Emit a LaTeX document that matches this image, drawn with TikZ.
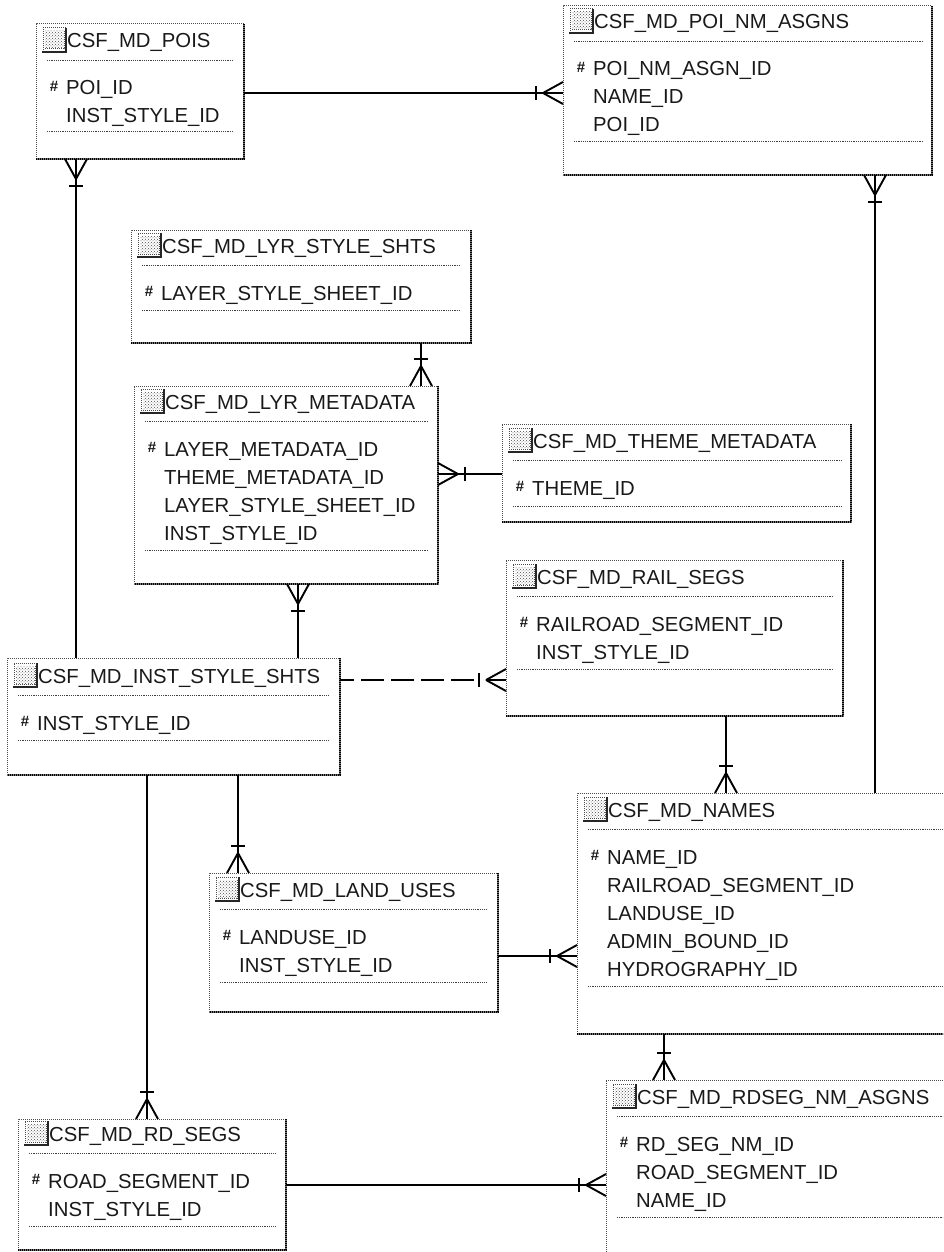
\documentclass[tikz,border=0pt]{standalone}
\usepackage{fontspec}
\setmainfont{Liberation Sans}
\usetikzlibrary{calc,patterns}
\tikzset{
  x=1pt,y=-1pt,
  rel/.style={line width=1.9pt,black,line cap=butt},
  tablebox/.style={inner sep=0pt,outer sep=0pt,fill=white},
  thinedge/.style={line width=1pt,black!70,dash pattern=on 1pt off 1pt},
  heavyunder/.style={line width=2.4pt,black!55},
  heavyedge/.style={line width=2.4pt,black,dash pattern=on 1pt off 1pt},
  rule/.style={line width=1pt,black!75,dash pattern=on 1.2pt off 1pt},
  label/.style={anchor=base west,inner sep=0pt,font=\fontsize{20.3}{20.3}\selectfont,text=black!90},
  keymark/.style={anchor=center,inner sep=0pt,font=\fontsize{15}{15}\selectfont\bfseries,text=black!90},
}
% #1 name, #2 l, #3 t, #4 r, #5 b, #6 title centre y, #7 title, #8 attributes, #9 lower rule y
\newcommand\erbox[9]{%
  \pgfmathsetmacro\bw{#4-#2}\pgfmathsetmacro\bh{#5-#3}%
  \node[tablebox,minimum width=\bw pt,minimum height=\bh pt] (#1) at ({(#2+#4)/2},{(#3+#5)/2}) {};
  \draw[thinedge] (#1.south west) -- (#1.north west) -- (#1.north east);
  \draw[heavyunder] (#1.north east) -- (#1.south east) -- (#1.south west);
  \draw[heavyedge] (#1.north east) -- (#1.south east) -- (#1.south west);
  \fill[pattern=crosshatch dots,pattern color=black!70] ({#2+9},{#6-10}) rectangle ({#2+28},{#6+7});
  \draw[thinedge] ({#2+7},{#6+11}) -- ({#2+7},{#6-13}) -- ({#2+30},{#6-13});
  \draw[thinedge] ({#2+9},{#6+8}) -- ({#2+28},{#6+8}) -- ({#2+28},{#6-10});
  \draw[line width=1.6pt,black!85] ({#2+6},{#6+11}) -- ({#2+30},{#6+11}) -- ({#2+30},{#6-13});
  \node[label] (#1-title) at ({#2+31},{#6+7}) {#7};
  \draw[rule] ({#2+11},{#6+19.5}) -- ({min(#4-10,943)},{#6+19.5});
  \foreach \a [count=\i] in {#8} {
    \node[label] (#1-a\i) at ({#2+30},{#6+47+7+28*(\i-1)}) {\a};
  }
  \node[keymark] (#1-key) at ({#2+18},{#6+47-2}) {\#};
  \draw[rule] ({#2+11},#9) -- ({min(#4-10,943)},#9);
}
% crow's foot on node border point #1, pointing away along (#2,#3)
\newcommand\crow[3]{%
  \coordinate (cc) at #1;
  \draw[rel] ($(cc)+(#2*20,#3*20)$) -- ($(cc)+(#3*11,#2*11)$);
  \draw[rel] ($(cc)+(#2*20,#3*20)$) -- ($(cc)-(#3*11,#2*11)$);
  \draw[rel] ($(cc)+(#2*27+#3*7,#3*27+#2*7)$) -- ($(cc)+(#2*27-#3*7,#3*27-#2*7)$);
}
\begin{document}
\begin{tikzpicture}
\clip (0,0) rectangle (943,1252);
\fill[white] (0,0) rectangle (943,1252);
\erbox{pois}{36}{24}{244}{159}{41}{CSF\_MD\_POIS}{POI\_ID,INST\_STYLE\_ID}{132}
\erbox{nm}{563}{6}{932}{175}{22}{CSF\_MD\_POI\_NM\_ASGNS}{POI\_NM\_ASGN\_ID,NAME\_ID,POI\_ID}{142}
\erbox{style}{131}{230}{471}{343}{246}{CSF\_MD\_LYR\_STYLE\_SHTS}{LAYER\_STYLE\_SHEET\_ID}{310}
\erbox{meta}{134}{386}{438}{584}{402}{CSF\_MD\_LYR\_METADATA}{LAYER\_METADATA\_ID,THEME\_METADATA\_ID,LAYER\_STYLE\_SHEET\_ID,INST\_STYLE\_ID}{550}
\erbox{theme}{502}{424}{851}{522}{441}{CSF\_MD\_THEME\_METADATA}{THEME\_ID}{506}
\erbox{rail}{506}{560}{843}{716}{577}{CSF\_MD\_RAIL\_SEGS}{RAILROAD\_SEGMENT\_ID,INST\_STYLE\_ID}{669}
\erbox{inst}{7}{658}{340}{775}{676}{CSF\_MD\_INST\_STYLE\_SHTS}{INST\_STYLE\_ID}{740}
\erbox{names}{577}{793}{965}{1034}{810}{CSF\_MD\_NAMES}{NAME\_ID,RAILROAD\_SEGMENT\_ID,LANDUSE\_ID,ADMIN\_BOUND\_ID,HYDROGRAPHY\_ID}{986}
\erbox{land}{209}{873}{498}{1012}{890}{CSF\_MD\_LAND\_USES}{LANDUSE\_ID,INST\_STYLE\_ID}{982}
\erbox{rd}{18}{1119}{286}{1250}{1134}{CSF\_MD\_RD\_SEGS}{ROAD\_SEGMENT\_ID,INST\_STYLE\_ID}{1226}
\erbox{rdseg}{606}{1080}{965}{1270}{1097}{CSF\_MD\_RDSEG\_NM\_ASGNS}{RD\_SEG\_NM\_ID,ROAD\_SEGMENT\_ID,NAME\_ID}{1217}

\draw[rel] (pois.east |- 0,93) -- (nm.west |- 0,93);
\crow{(nm.west |- 0,93)}{-1}{0}
\draw[rel] (pois.south -| 76,0) -- (inst.north -| 76,0);
\crow{(pois.south -| 76,0)}{0}{1}
\draw[rel] (nm.south -| 875,0) -- (names.north -| 875,0);
\crow{(nm.south -| 875,0)}{0}{1}
\draw[rel] (style.south -| 421,0) -- (meta.north -| 421,0);
\crow{(meta.north -| 421,0)}{0}{-1}
\draw[rel] (meta.east |- 0,474) -- (theme.west |- 0,474);
\crow{(meta.east |- 0,474)}{1}{0}
\draw[rel] (meta.south -| 298,0) -- (inst.north -| 298,0);
\crow{(meta.south -| 298,0)}{0}{1}
\coordinate (dashend) at (476,680);
\draw[rel,dash pattern=on 23pt off 7pt,dash phase=9pt] (inst.east |- dashend) -- (dashend);
\draw[rel] ($(rail.west |- dashend)+(-20,0)$) -- (rail.west |- dashend);
\crow{(rail.west |- dashend)}{-1}{0}
\draw[rel] (rail.south -| 726,0) -- (names.north -| 726,0);
\crow{(names.north -| 726,0)}{0}{-1}
\draw[rel] (inst.south -| 238,0) -- (land.north -| 238,0);
\crow{(land.north -| 238,0)}{0}{-1}
\draw[rel] (inst.south -| 147,0) -- (rd.north -| 147,0);
\crow{(rd.north -| 147,0)}{0}{-1}
\draw[rel] (land.east |- 0,956) -- (names.west |- 0,956);
\crow{(names.west |- 0,956)}{-1}{0}
\draw[rel] (names.south -| 664,0) -- (rdseg.north -| 664,0);
\crow{(rdseg.north -| 664,0)}{0}{-1}
\draw[rel] (rd.east |- 0,1185) -- (rdseg.west |- 0,1185);
\crow{(rdseg.west |- 0,1185)}{-1}{0}
\end{tikzpicture}
\end{document}
